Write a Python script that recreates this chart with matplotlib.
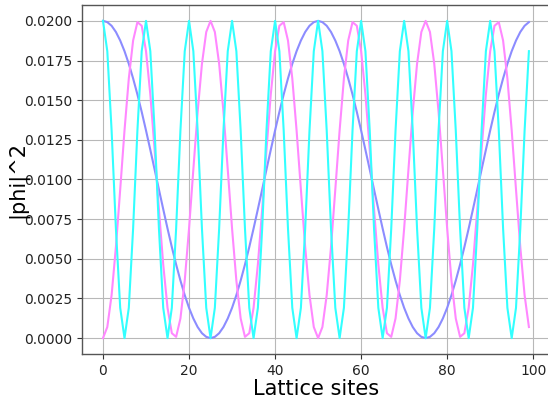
import matplotlib
matplotlib.use("Agg")
import matplotlib.pyplot as plt

# Lattice site indices
sites = list(range(100))

# |phi|^2 on each site for three modes
mode_slow = [
    0.02000, 0.01992, 0.01969, 0.01930, 0.01876, 0.01809, 0.01729, 0.01637, 0.01536, 0.01426,
    0.01309, 0.01187, 0.01063, 0.00937, 0.00813, 0.00691, 0.00574, 0.00464, 0.00363, 0.00271,
    0.00191, 0.00124, 0.00070, 0.00031, 0.00008, 0.00000, 0.00008, 0.00031, 0.00070, 0.00124,
    0.00191, 0.00271, 0.00363, 0.00464, 0.00574, 0.00691, 0.00813, 0.00937, 0.01063, 0.01187,
    0.01309, 0.01426, 0.01536, 0.01637, 0.01729, 0.01809, 0.01876, 0.01930, 0.01969, 0.01992,
    0.02000, 0.01992, 0.01969, 0.01930, 0.01876, 0.01809, 0.01729, 0.01637, 0.01536, 0.01426,
    0.01309, 0.01187, 0.01063, 0.00937, 0.00813, 0.00691, 0.00574, 0.00464, 0.00363, 0.00271,
    0.00191, 0.00124, 0.00070, 0.00031, 0.00008, 0.00000, 0.00008, 0.00031, 0.00070, 0.00124,
    0.00191, 0.00271, 0.00363, 0.00464, 0.00574, 0.00691, 0.00813, 0.00937, 0.01063, 0.01187,
    0.01309, 0.01426, 0.01536, 0.01637, 0.01729, 0.01809, 0.01876, 0.01930, 0.01969, 0.01992,
]

mode_mid = [
    0.00000, 0.00070, 0.00271, 0.00574, 0.00937, 0.01309, 0.01637, 0.01876, 0.01992, 0.01969,
    0.01809, 0.01536, 0.01187, 0.00813, 0.00464, 0.00191, 0.00031, 0.00008, 0.00124, 0.00363,
    0.00691, 0.01063, 0.01426, 0.01729, 0.01930, 0.02000, 0.01930, 0.01729, 0.01426, 0.01063,
    0.00691, 0.00363, 0.00124, 0.00008, 0.00031, 0.00191, 0.00464, 0.00813, 0.01187, 0.01536,
    0.01809, 0.01969, 0.01992, 0.01876, 0.01637, 0.01309, 0.00937, 0.00574, 0.00271, 0.00070,
    0.00000, 0.00070, 0.00271, 0.00574, 0.00937, 0.01309, 0.01637, 0.01876, 0.01992, 0.01969,
    0.01809, 0.01536, 0.01187, 0.00813, 0.00464, 0.00191, 0.00031, 0.00008, 0.00124, 0.00363,
    0.00691, 0.01063, 0.01426, 0.01729, 0.01930, 0.02000, 0.01930, 0.01729, 0.01426, 0.01063,
    0.00691, 0.00363, 0.00124, 0.00008, 0.00031, 0.00191, 0.00464, 0.00813, 0.01187, 0.01536,
    0.01809, 0.01969, 0.01992, 0.01876, 0.01637, 0.01309, 0.00937, 0.00574, 0.00271, 0.00070,
]

mode_fast = [
    0.02000, 0.01809, 0.01309, 0.00691, 0.00191, 0.00000, 0.00191, 0.00691, 0.01309, 0.01809,
    0.02000, 0.01809, 0.01309, 0.00691, 0.00191, 0.00000, 0.00191, 0.00691, 0.01309, 0.01809,
    0.02000, 0.01809, 0.01309, 0.00691, 0.00191, 0.00000, 0.00191, 0.00691, 0.01309, 0.01809,
    0.02000, 0.01809, 0.01309, 0.00691, 0.00191, 0.00000, 0.00191, 0.00691, 0.01309, 0.01809,
    0.02000, 0.01809, 0.01309, 0.00691, 0.00191, 0.00000, 0.00191, 0.00691, 0.01309, 0.01809,
    0.02000, 0.01809, 0.01309, 0.00691, 0.00191, 0.00000, 0.00191, 0.00691, 0.01309, 0.01809,
    0.02000, 0.01809, 0.01309, 0.00691, 0.00191, 0.00000, 0.00191, 0.00691, 0.01309, 0.01809,
    0.02000, 0.01809, 0.01309, 0.00691, 0.00191, 0.00000, 0.00191, 0.00691, 0.01309, 0.01809,
    0.02000, 0.01809, 0.01309, 0.00691, 0.00191, 0.00000, 0.00191, 0.00691, 0.01309, 0.01809,
    0.02000, 0.01809, 0.01309, 0.00691, 0.00191, 0.00000, 0.00191, 0.00691, 0.01309, 0.01809,
]

fig = plt.figure(figsize=(5.48, 4.0), dpi=100)
ax = fig.add_axes([81.7 / 548, 46 / 400, 468.5 / 548, 349 / 400])

ax.plot(sites, mode_slow, color="#8c8cff", lw=1.5)
ax.plot(sites, mode_mid, color="#ff88ff", lw=1.5)
ax.plot(sites, mode_fast, color="#33ffff", lw=1.5)

ax.set_xlim(-4.95, 103.95)
ax.set_ylim(-0.001, 0.021)
ax.set_yticks([0.0, 0.0025, 0.005, 0.0075, 0.01, 0.0125, 0.015, 0.0175, 0.02])
ax.set_yticklabels([f"{v:.4f}" for v in ax.get_yticks()])

ax.grid(True, color="#b8b8b8", lw=0.8)
ax.set_axisbelow(True)
for s in ax.spines.values():
    s.set_color("#555555")
    s.set_linewidth(1.0)
ax.tick_params(colors="#333333", labelcolor="#222222", labelsize=10)

ax.set_xlabel("Lattice sites", fontsize=15, labelpad=1)
ax.set_ylabel("|phi|^2", fontsize=15, labelpad=-3)

fig.savefig("out.png", dpi=100)
